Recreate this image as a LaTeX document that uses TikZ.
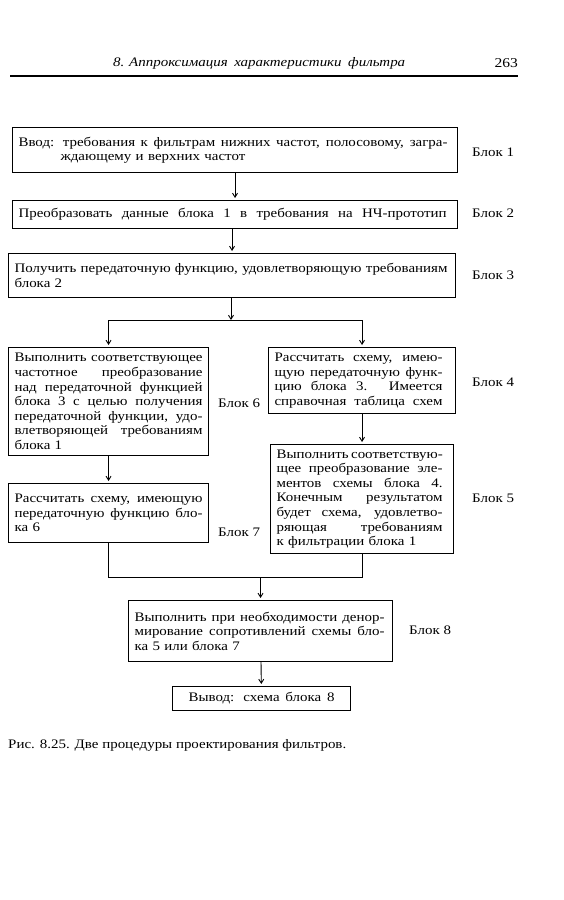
\documentclass[tikz,border=0pt]{standalone}
\usepackage{fontspec}
\setmainfont{Liberation Serif}[FakeStretch=1.15]
\usetikzlibrary{positioning, arrows.meta}

\newcommand{\rovno}[2]{{\spaceskip=0pt\xspaceskip=0pt\makebox[#1][s]{#2}}}
\tikzset{
  blok/.style={draw, line width=1.1pt, anchor=north west, align=left, inner xsep=6pt, inner ysep=2pt, font=\fontsize{13}{14.6}\selectfont},
  metka/.style={anchor=west, inner sep=0pt, font=\fontsize{13}{14.6}\selectfont},
  pil/.style={line width=0.9pt, -{Straight Barb[length=4pt,width=5pt]}, shorten >=2pt},
  lin/.style={line width=0.9pt}
}

\begin{document}
\begin{tikzpicture}[x=1pt, y=-1pt]
\fill[white] (0,0) rectangle (563,900);
\useasboundingbox (0,0) rectangle (563,900);
\node[anchor=west, inner sep=0pt, font=\fontsize{13}{15}\selectfont\itshape] (kolon) at (113,63) {\rovno{292pt}{8. Аппроксимация \ характеристики \ фильтра}};
\node[anchor=east, inner sep=0pt, font=\fontsize{13.5}{15}\selectfont] (str) at (518,63) {263};
\draw[line width=1.4pt] (10,76) -- (518,76);

\node[blok, text width=433pt, minimum height=45pt] (b1) at (12,127) {\rovno{429pt}{Ввод: требования к фильтрам нижних частот, полосовому, загра-}\\\hspace*{42pt}ждающему и верхних частот};
\node[blok, text width=433pt, minimum height=28pt] (b2) at (12,200) {\rovno{428pt}{Преобразовать данные блока 1 в требования на НЧ-прототип}};
\node[blok, text width=435pt, minimum height=44pt] (b3) at (8,253) {\rovno{433pt}{Получить передаточную функцию, удовлетворяющую требованиям}\\блока 2};
\node[blok, text width=188pt, minimum height=108pt] (b6) at (8,347) {\rovno{188pt}{Выполнить соответствующее}\\\rovno{188pt}{частотное преобразование}\\\rovno{188pt}{над передаточной функцией}\\\rovno{188pt}{блока 3 с целью получения}\\\rovno{188pt}{передаточной функции, удо-}\\\rovno{188pt}{влетворяющей требованиям}\\блока 1};
\node[blok, text width=175pt, minimum height=66pt] (b4) at (268,347) {\rovno{168pt}{Рассчитать схему, имею-}\\\rovno{168pt}{щую передаточную функ-}\\\rovno{168pt}{цию блока 3. Имеется}\\\rovno{168pt}{справочная таблица схем}};
\node[blok, text width=171pt, minimum height=109pt] (b5) at (270,444) {\rovno{166pt}{Выполнить соответствую-}\\\rovno{166pt}{щее преобразование эле-}\\\rovno{166pt}{ментов схемы блока 4.}\\\rovno{166pt}{Конечным результатом}\\\rovno{166pt}{будет схема, удовлетво-}\\\rovno{166pt}{ряющая требованиям}\\к фильтрации блока 1};
\node[blok, text width=188pt, minimum height=59pt] (b7) at (8,483) {\rovno{188pt}{Рассчитать схему, имеющую}\\\rovno{188pt}{передаточную функцию бло-}\\ка 6};
\node[blok, text width=252pt, minimum height=61pt] (b8) at (128,600) {\rovno{250pt}{Выполнить при необходимости денор-}\\\rovno{250pt}{мирование сопротивлений схемы бло-}\\ка 5 или блока 7};
\node[blok, text width=166pt, minimum height=24pt, align=center] (b9) at (172,686) {\rovno{146pt}{Вывод: схема блока 8}};

\node[metka] (l1) at (472,152) {Блок 1};
\node[metka] (l2) at (472,213) {Блок 2};
\node[metka] (l3) at (472,275) {Блок 3};
\node[metka] (l4) at (472,382) {Блок 4};
\node[metka] (l5) at (472,498) {Блок 5};
\node[metka] (l6) at (218,403) {Блок 6};
\node[metka] (l7) at (218,532) {Блок 7};
\node[metka] (l8) at (409,630) {Блок 8};

\coordinate (razv) at (231,320);
\coordinate (sbor) at (260,577);
\draw[pil] (b1) -- (b2);
\draw[pil] (b2.south -| b3) -- (b3.north);
\draw[pil, shorten >=0pt] (b3.south -| razv) -- (razv);
\draw[lin] (razv -| b6) -- (razv -| b4);
\draw[pil] (razv -| b6) -- (b6);
\draw[pil] (razv -| b4) -- (b4);
\draw[pil] (b4) -- (b5);
\draw[pil] (b6) -- (b7);
\draw[lin] (b7) -- (b7 |- sbor) -- (b5 |- sbor) -- (b5);
\draw[pil] (sbor -| b8) -- (b8);
\draw[pil] (b8) -- (b9);

\node[anchor=west, inner sep=0pt, font=\fontsize{13}{14.6}\selectfont] (podp) at (8,745) {Рис. 8.25. Две процедуры проектирования фильтров.};
\end{tikzpicture}
\end{document}
